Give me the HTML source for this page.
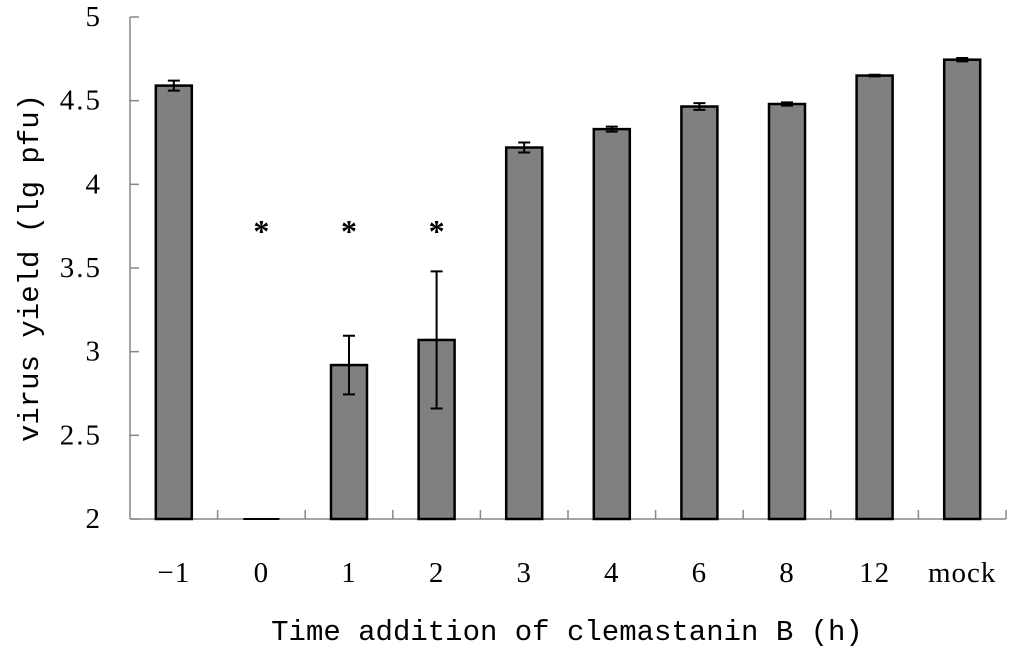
<!DOCTYPE html>
<html><head><meta charset="utf-8"><style>
body{margin:0;background:#fff;}
svg{display:block;font-family:"Liberation Mono","Noto Sans CJK SC",monospace;}
.num{font-family:"Liberation Serif","Noto Serif CJK SC",serif;}
</style></head><body>
<svg id="chart" width="1014" height="660" viewBox="0 0 1014 660"></svg>
<script>
const categories=["-1","0","1","2","3","4","6","8","12","mock"];
const values=[4.59,2.0,2.92,3.07,4.22,4.33,4.465,4.48,4.65,4.745];
const errors=[0.03,0,0.175,0.41,0.03,0.015,0.02,0.01,0.005,0.01];
const significant=[false,true,true,true,false,false,false,false,false,false];
const yTicks=[2,2.5,3,3.5,4,4.5,5];
const yTickLabels=["2","2.5","3","3.5","4","4.5","5"];

const NS="http://www.w3.org/2000/svg";
const svg=document.getElementById('chart');
const x0=130,x1=1006,yBase=519,yTop=17,yMin=2,yMax=5;
const step=(x1-x0)/categories.length;
const y=v=>yBase-(v-yMin)/(yMax-yMin)*(yBase-yTop);
const xc=i=>x0+step*(i+0.5);
function mk(t,a){const e=document.createElementNS(NS,t);for(const k in a)e.setAttribute(k,a[k]);svg.appendChild(e);return e;}

let e;
e=mk('line',{x1:x0,y1:yTop,x2:x0,y2:yBase,stroke:'#888','stroke-width':1.5});


e=mk('line',{x1:x0,y1:yBase,x2:x1,y2:yBase,stroke:'#888','stroke-width':1.5});



yTicks.forEach((t,i)=>{
  const yy=y(t);
  e=mk('line',{x1:x0,y1:yy,x2:x0+9,y2:yy,stroke:'#888','stroke-width':1.5});
  
  
  e=mk('text',{x:x0-28,y:yy+9,'text-anchor':'end','font-size':29,'letter-spacing':2,class:'num'});
  e.textContent=yTickLabels[i];
  
  
});
for(let i=1;i<=categories.length;i++){
  e=mk('line',{x1:x0+step*i,y1:yBase,x2:x0+step*i,y2:yBase-9,stroke:'#888','stroke-width':1.5});
  
  
}
const bw=36;
categories.forEach((c,i)=>{
  const cx=xc(i),top=y(values[i]);
  if(values[i]>yMin){
    e=mk('rect',{x:cx-bw/2,y:top,width:bw,height:yBase-top,fill:'#808080',stroke:'#000','stroke-width':2.5});
  } else {
    e=mk('line',{x1:cx-bw/2,y1:yBase,x2:cx+bw/2,y2:yBase,stroke:'#000','stroke-width':2});
  }
  
  
  if(errors[i]>0){
    const a=y(values[i]+errors[i]),b=y(values[i]-errors[i]);
    e=mk('path',{d:`M${cx},${a}V${b}M${cx-6},${a}H${cx+6}M${cx-6},${b}H${cx+6}`,stroke:'#000','stroke-width':2,fill:'none'});
    
    
  }
  if(significant[i]){
    e=mk('text',{x:cx,y:y(3.75)+16,'text-anchor':'middle','font-size':32,'font-weight':'bold',class:'num'});
    e.textContent='*';
    
    
  }
  e=mk('text',{x:cx,y:582,'text-anchor':'middle','font-size':29,'letter-spacing':1,class:'num'});
  e.textContent=c==='-1'?'\u22121':c;
  
  
});
e=mk('text',{x:567,y:640,'text-anchor':'middle','font-size':29});
e.textContent='Time addition of clemastanin B (h)';


e=mk('text',{x:0,y:0,'text-anchor':'middle','font-size':29,transform:'translate(38,268) rotate(-90)'});
e.textContent='virus yield (lg pfu)';


</script>
</body></html>
